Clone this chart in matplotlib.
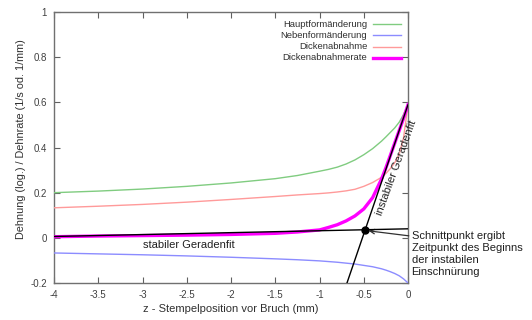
#!/usr/bin/env python3
"""
Dehnung und Dehnrate ueber der Stempelposition vor dem Bruch,
mit stabilem und instabilem Geradenfit zur Bestimmung der Einschnuerung.
"""
import matplotlib
matplotlib.use("Agg")
import matplotlib.pyplot as plt

plt.rcParams['font.family'] = ['Liberation Sans', 'DejaVu Sans']
plt.rcParams['axes.unicode_minus'] = False

# --- Messwerte ---
z = [-4, -3.5, -3, -2.5, -2, -1.5, -1.25, -1, -0.9, -0.8, -0.7, -0.6, -0.5,
     -0.4, -0.3, -0.25, -0.2, -0.15, -0.1, -0.05, 0]

hauptformaenderung = [0.200, 0.207, 0.216, 0.228, 0.243, 0.262, 0.276, 0.295, 0.303,
                      0.313, 0.327, 0.345, 0.368, 0.395, 0.428, 0.447, 0.467, 0.487,
                      0.512, 0.547, 0.590]
nebenformaenderung = [-0.067, -0.071, -0.075, -0.080, -0.086, -0.093, -0.097, -0.102,
                      -0.105, -0.108, -0.112, -0.116, -0.122, -0.128, -0.137, -0.143,
                      -0.150, -0.158, -0.168, -0.182, -0.200]
dickenabnahme = [0.133, 0.140, 0.148, 0.158, 0.170, 0.183, 0.190, 0.196, 0.199,
                 0.203, 0.208, 0.215, 0.228, 0.245, 0.268, 0.285, 0.307, 0.333,
                 0.370, 0.445, 0.590]
dickenabnahmerate = [0.005, 0.008, 0.010, 0.012, 0.015, 0.020, 0.026, 0.035, 0.046,
                     0.058, 0.075, 0.097, 0.128, 0.178, 0.260, 0.310, 0.365, 0.420,
                     0.475, 0.530, 0.590]

# Geradenfits (Endpunkte)
stabil_z = [-4, 0]
stabil_y = [0.006, 0.040]
instabil_z = [-0.69, 0]
instabil_y = [-0.2, 0.59]

x_ticks = [-4, -3.5, -3, -2.5, -2, -1.5, -1, -0.5, 0]
x_ticklabels = ['-4', '-3.5', '-3', '-2.5', '-2', '-1.5', '-1', '-0.5', '0']
y_ticks = [-0.2, 0, 0.2, 0.4, 0.6, 0.8, 1]
y_ticklabels = ['-0.2', '0', '0.2', '0.4', '0.6', '0.8', '1']

series = [
    ('Hauptformänderung', hauptformaenderung, '#80cc80', 1.0),
    ('Nebenformänderung', nebenformaenderung, '#8c8cff', 1.0),
    ('Dickenabnahme', dickenabnahme, '#ff9a9a', 1.0),
    ('Dickenabnahmerate', dickenabnahmerate, '#ff00ff', 2.4),
]


def schnittpunkt(x1, y1, x2, y2):
    # intersection of two lines given by their endpoints
    m1 = (y1[1] - y1[0]) / (x1[1] - x1[0])
    m2 = (y2[1] - y2[0]) / (x2[1] - x2[0])
    b1 = y1[0] - m1 * x1[0]
    b2 = y2[0] - m2 * x2[0]
    xs = (b2 - b1) / (m1 - m2)
    return xs, m1 * xs + b1


def main():
    fig = plt.figure(figsize=(5.32, 3.2), dpi=100)
    ax = fig.add_axes([0.1015, 0.1156, 0.6655, 0.8469])

    for label, values, color, lw in series:
        ax.plot(z, values, color=color, lw=lw, zorder=3)

    ax.plot(stabil_z, stabil_y, color='black', lw=1.0, zorder=4)
    ax.plot(instabil_z, instabil_y, color='black', lw=1.0, zorder=4)

    xs, ys = schnittpunkt(stabil_z, stabil_y, instabil_z, instabil_y)
    ax.plot([xs], [ys], 'o', color='black', ms=5, zorder=5)

    ax.set_xlim(-4, 0)
    ax.set_ylim(-0.2, 1)
    ax.set_xticks(x_ticks)
    ax.set_xticklabels(x_ticklabels)
    ax.set_yticks(y_ticks)
    ax.set_yticklabels(y_ticklabels)
    ax.tick_params(direction='in', top=True, right=True, length=4.5, width=0.8,
                   color='#606060', labelsize=7, labelcolor='#404040', pad=5)
    for sp in ax.spines.values():
        sp.set_color('#707070')
        sp.set_linewidth(1.0)

    ax.set_xlabel('z - Stempelposition vor Bruch (mm)', fontsize=8, color='#303030', labelpad=3)
    ax.set_ylabel('Dehnung (log.) / Dehnrate (1/s od. 1/mm)', fontsize=7.8,
                  color='#303030')
    ax.yaxis.set_label_coords(-0.08, 0.53)

    # legend: text right-aligned, line sample to the right
    for i, (label, values, color, lw) in enumerate(series):
        ty = 0.955 - i * 0.0415
        ax.text(0.885, ty, label, transform=ax.transAxes, ha='right', va='center',
                fontsize=6.8, color='#303030')
        ax.plot([0.9, 0.98], [ty, ty], transform=ax.transAxes, color=color, lw=lw)

    ax.text(-3.0, -0.01, 'stabiler Geradenfit', fontsize=8, color='#202020',
            ha='left', va='top')
    ax.text(-0.13, 0.31, 'instabiler Geradenfit', fontsize=8, color='#202020',
            ha='center', va='center', rotation=70, clip_on=False)

    ax.annotate('Schnittpunkt ergibt\nZeitpunkt des Beginns\nder instabilen\nEinschnürung',
                xy=(xs + 0.04, ys - 0.005), xytext=(0.04, -0.07),
                fontsize=8, color='#202020', ha='left', va='center',
                linespacing=1.25, annotation_clip=False,
                arrowprops=dict(arrowstyle='->', color='#303030', lw=0.9,
                                shrinkA=0, shrinkB=0, relpos=(0, 0.88)))

    fig.savefig('out.png', dpi=100)


if __name__ == '__main__':
    main()
